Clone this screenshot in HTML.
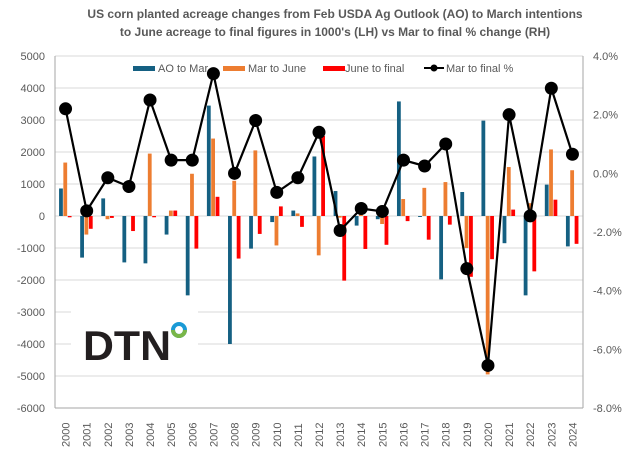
<!DOCTYPE html><html><head><meta charset="utf-8"><style>body{margin:0;background:#fff}svg text{font-family:"Liberation Sans",Arial,sans-serif}</style></head><body>
<svg width="640" height="460" xmlns="http://www.w3.org/2000/svg" id="c">
<text x="335" y="18" text-anchor="middle" font-size="12" font-weight="bold" fill="#595959">US corn planted acreage changes from Feb USDA Ag Outlook (AO) to March intentions</text>
<text x="335" y="36" text-anchor="middle" font-size="12" font-weight="bold" fill="#595959">to June acreage to final figures in 1000's (LH) vs Mar to final % change (RH)</text>
<g id="g"></g>
</svg>
<script>
var s=document.getElementById('g'),h='';
var L=55,R=583,T=56,B=408;
function yl(v){return 216-v*0.032}
function yr(p){return 173.33-p*29.333}
for(var v=5000;v>=-6000;v-=1000){var y=yl(v);if(v>-6000)h+='<line x1="'+L+'" x2="'+R+'" y1="'+y+'" y2="'+y+'" stroke="#d9d9d9"/>';h+='<text x="45" y="'+(y+4)+'" text-anchor="end" font-size="11" fill="#595959">'+v+'</text>';}
for(var p=4;p>=-8;p-=2){h+='<text x="593" y="'+(yr(p)+4)+'" font-size="11" fill="#595959">'+p.toFixed(1)+'%</text>';}
var ao=[860,-1300,550,-1450,-1480,-580,-2480,3450,-4000,-1020,-190,170,1860,780,-300,-100,3580,-30,-1980,750,2980,-850,-2480,980,-950];
var mj=[1670,-580,-100,0,1950,170,1320,2420,1100,2050,-920,80,-1230,-50,100,-250,530,880,1060,-1000,-4950,1530,400,2080,1430];
var jf=[-40,-400,-60,-470,-40,170,-1020,600,-1330,-560,300,-340,2500,-2020,-1030,-900,-160,-740,-270,-1900,-1350,200,-1730,510,-870];
var pc=[2.2,-1.28,-0.15,-0.45,2.5,0.45,0.45,3.4,0.0,1.8,-0.65,-0.15,1.4,-1.95,-1.2,-1.3,0.45,0.25,1.0,-3.25,-6.55,2.0,-1.45,2.9,0.65];
var w=(R-L)/25,pts=[];
function bar(x,v,c){var y0=yl(0),y1=yl(v);h+='<rect x="'+x+'" y="'+Math.min(y0,y1)+'" width="3.8" height="'+Math.abs(y1-y0)+'" fill="'+c+'"/>';}
for(var i=0;i<25;i++){var c=L+w*(i+0.5);bar(c-6.5,ao[i],'#156082');bar(c-2.2,mj[i],'#ed7d31');bar(c+2.2,jf[i],'#ff0000');pts.push(c+','+yr(pc[i]));
h+='<text transform="translate('+(c+4)+',447) rotate(-90)" font-size="11" fill="#595959">'+(2000+i)+'</text>';}
h+='<line x1="'+L+'" x2="'+L+'" y1="'+T+'" y2="'+B+'" stroke="#a6a6a6"/><line x1="'+R+'" x2="'+R+'" y1="'+T+'" y2="'+B+'" stroke="#a6a6a6"/><line x1="'+L+'" x2="'+R+'" y1="'+B+'" y2="'+B+'" stroke="#a6a6a6"/>';
h+='<rect x="71" y="310" width="127" height="55" fill="#fff"/><text x="83" y="360" font-size="42" font-weight="bold" fill="#231f20" textLength="88" lengthAdjust="spacingAndGlyphs">DTN</text><circle cx="179" cy="330" r="6" fill="none" stroke="#1a9ad6" stroke-width="4"/><path d="M173,330 A6,6 0 0 0 185,330" fill="none" stroke="#7ab648" stroke-width="4"/>';
h+='<rect x="133" y="66" width="22" height="5" fill="#156082"/><text x="158" y="72" font-size="11" fill="#595959">AO to Mar</text>';
h+='<rect x="223" y="66" width="22" height="5" fill="#ed7d31"/><text x="248" y="72" font-size="11" fill="#595959">Mar to June</text>';
h+='<rect x="323" y="66" width="22" height="5" fill="#ff0000"/><text x="345" y="72" font-size="11" fill="#595959">June to final</text>';
h+='<line x1="424" x2="444" y1="68" y2="68" stroke="#000" stroke-width="2"/><circle cx="434" cy="68" r="3.5"/><text x="446" y="72" font-size="11" fill="#595959">Mar to final %</text>';
h+='<polyline points="'+pts.join(' ')+'" fill="none" stroke="#000" stroke-width="2.2"/>';
pts.forEach(function(p){var a=p.split(',');h+='<circle cx="'+a[0]+'" cy="'+a[1]+'" r="6.5" fill="#000"/>';});
s.innerHTML=h;
</script></body></html>
